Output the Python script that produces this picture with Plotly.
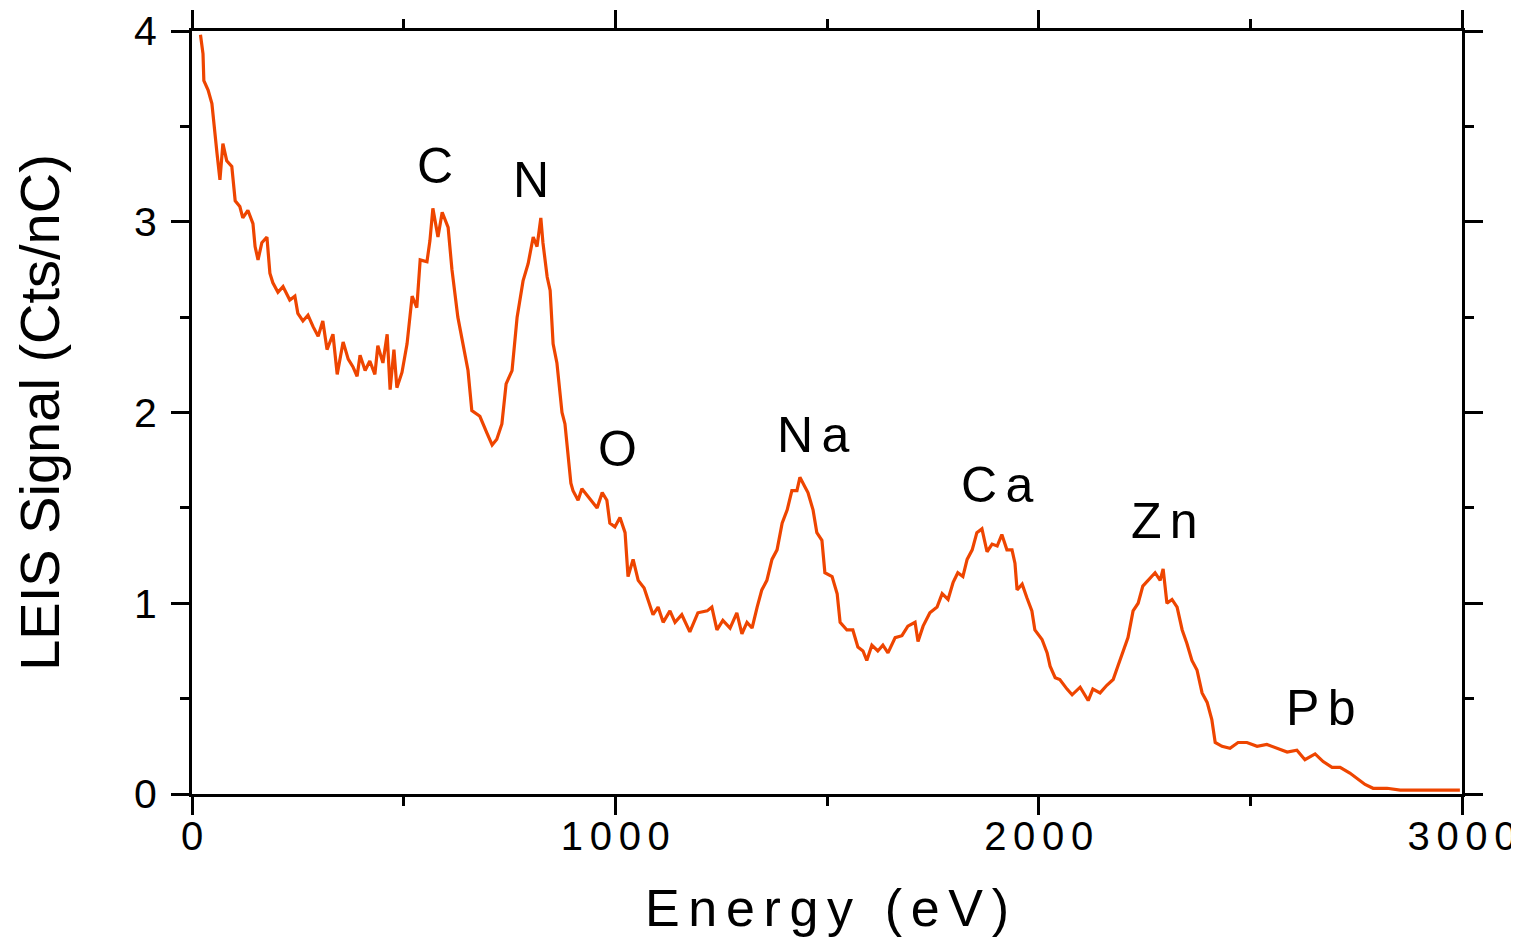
import plotly.graph_objects as go

# Energy (eV) and LEIS signal (Cts/nC)
energy = [20, 26, 28, 38, 47, 52, 59, 66, 73, 82, 94, 102, 113, 120, 132, 144, 149, 156, 165, 177,
          184, 191, 203, 215, 231, 243, 250, 262, 274, 286, 298, 309, 319, 333, 343, 357, 369, 380,
          390, 397, 409, 420, 432, 439, 451, 461, 468, 477, 484, 496, 508, 520, 531, 539, 555, 562,
          569, 581, 591, 605, 614, 628, 640, 652, 661, 680, 697, 709, 720, 732, 742, 756, 768, 782,
          794, 806, 815, 824, 829, 839, 846, 853, 862, 874, 881, 888, 895, 900, 912, 921, 935, 957,
          969, 980, 987, 999, 1011, 1023, 1030, 1042, 1054, 1068, 1077, 1089, 1101, 1113, 1129, 1141,
          1157, 1176, 1195, 1217, 1228, 1240, 1254, 1271, 1287, 1299, 1311, 1323, 1335, 1346, 1358,
          1370, 1382, 1394, 1406, 1417, 1429, 1436, 1448, 1455, 1467, 1476, 1488, 1495, 1512, 1524,
          1531, 1547, 1561, 1573, 1585, 1594, 1606, 1620, 1632, 1644, 1661, 1677, 1691, 1708, 1715,
          1727, 1743, 1760, 1772, 1786, 1798, 1809, 1821, 1831, 1843, 1854, 1866, 1878, 1890, 1902,
          1913, 1925, 1937, 1944, 1949, 1961, 1972, 1984, 1991, 2008, 2020, 2027, 2039, 2050, 2067,
          2079, 2098, 2117, 2128, 2145, 2161, 2176, 2187, 2199, 2211, 2223, 2235, 2246, 2258, 2275,
          2287, 2294, 2303, 2315, 2327, 2339, 2350, 2362, 2374, 2386, 2398, 2409, 2417, 2433, 2452,
          2471, 2492, 2516, 2539, 2563, 2587, 2610, 2629, 2653, 2672, 2693, 2712, 2735, 2754, 2771,
          2790, 2823, 2854, 2894, 2931, 2965, 2995]
signal = [3.98, 3.88, 3.74, 3.69, 3.62, 3.50, 3.36, 3.22, 3.41, 3.32, 3.29, 3.11, 3.08, 3.02, 3.06,
          2.99, 2.87, 2.80, 2.89, 2.92, 2.73, 2.68, 2.63, 2.66, 2.59, 2.61, 2.52, 2.48, 2.51, 2.45,
          2.40, 2.48, 2.33, 2.41, 2.20, 2.37, 2.28, 2.24, 2.19, 2.30, 2.22, 2.27, 2.20, 2.35, 2.26,
          2.41, 2.12, 2.33, 2.13, 2.21, 2.36, 2.61, 2.55, 2.80, 2.79, 2.90, 3.07, 2.92, 3.05, 2.97,
          2.75, 2.50, 2.36, 2.22, 2.01, 1.98, 1.89, 1.83, 1.86, 1.94, 2.15, 2.22, 2.50, 2.69, 2.78,
          2.92, 2.87, 3.02, 2.89, 2.71, 2.64, 2.36, 2.26, 2.00, 1.94, 1.77, 1.63, 1.59, 1.54, 1.60,
          1.56, 1.50, 1.58, 1.54, 1.42, 1.40, 1.45, 1.37, 1.14, 1.23, 1.12, 1.08, 1.02, 0.94, 0.98,
          0.90, 0.96, 0.90, 0.94, 0.85, 0.95, 0.96, 0.98, 0.86, 0.91, 0.87, 0.95, 0.84, 0.90, 0.87,
          0.98, 1.07, 1.12, 1.23, 1.28, 1.42, 1.49, 1.59, 1.59, 1.66, 1.61, 1.58, 1.49, 1.37, 1.33,
          1.16, 1.14, 1.05, 0.90, 0.86, 0.86, 0.77, 0.75, 0.70, 0.78, 0.75, 0.78, 0.74, 0.82, 0.83,
          0.88, 0.90, 0.80, 0.88, 0.95, 0.98, 1.05, 1.02, 1.11, 1.16, 1.14, 1.23, 1.28, 1.37, 1.39,
          1.27, 1.31, 1.30, 1.36, 1.28, 1.28, 1.21, 1.07, 1.10, 1.03, 0.96, 0.86, 0.81, 0.74, 0.67,
          0.61, 0.60, 0.55, 0.52, 0.56, 0.49, 0.55, 0.53, 0.57, 0.60, 0.67, 0.75, 0.82, 0.96, 1.00,
          1.09, 1.12, 1.16, 1.12, 1.18, 1.00, 1.02, 0.98, 0.86, 0.79, 0.70, 0.65, 0.53, 0.48, 0.39,
          0.27, 0.25, 0.24, 0.27, 0.27, 0.25, 0.26, 0.24, 0.22, 0.23, 0.18, 0.21, 0.17, 0.14, 0.14,
          0.11, 0.08, 0.05, 0.03, 0.03, 0.02, 0.02, 0.02, 0.02, 0.02]

# Peak labels
peak_labels = ["C", "N", "O", "N\u2006a", "C\u2006a", "Z\u2006n", "P\u2006b"]
peak_x = [574, 801, 1004, 1467, 1902, 2298, 2665]
peak_y = [3.29, 3.22, 1.81, 1.88, 1.62, 1.43, 0.45]

x_tickvals = [0, 1000, 2000, 3000]
x_ticktext = ["0", "1\u20060\u20060\u20060", "2\u20060\u20060\u20060", "3\u20060\u20060\u20060"]
y_tickvals = [0, 1, 2, 3, 4]
y_ticktext = ["0", "1", "2", "3", "4"]

FONT = "Liberation Sans, Arial, Helvetica, sans-serif"
LINE_COLOR = "#EE4500"

fig = go.Figure()
fig.add_trace(go.Scatter(x=energy, y=signal, mode="lines",
                         line=dict(color=LINE_COLOR, width=3.2), showlegend=False))

for t, xv, yv in zip(peak_labels, peak_x, peak_y):
    fig.add_annotation(x=xv, y=yv, text=t, showarrow=False,
                       font=dict(family=FONT, size=50, color="black"))

axis_common = dict(showline=True, linecolor="black", linewidth=3, mirror="allticks",
                   ticks="outside", ticklen=18, tickwidth=3, tickcolor="black",
                   showgrid=False, zeroline=False, automargin=False,
                   ticklabeloverflow="allow")

fig.update_xaxes(range=[0, 3000], tickmode="array", tickvals=x_tickvals, ticktext=x_ticktext,
                 tickfont=dict(family=FONT, size=40, color="black"),
                 minor=dict(ticks="outside", ticklen=9, tickwidth=3, tickcolor="black",
                            dtick=500, tick0=0, showgrid=False),
                 title=dict(text="E\u2006n\u2006e\u2006r\u2006g\u2006y\u2006 \u2006(\u2006e\u2006V\u2006)",
                            font=dict(family=FONT, size=52, color="black"), standoff=33),
                 ticklabelstandoff=-13,
                 **axis_common)
fig.update_yaxes(range=[0, 4], tickmode="array", tickvals=y_tickvals, ticktext=y_ticktext,
                 tickfont=dict(family=FONT, size=41, color="black"),
                 minor=dict(ticks="outside", ticklen=9, tickwidth=3, tickcolor="black",
                            dtick=0.5, tick0=0, showgrid=False),
                 title=dict(text="LEIS Signal (Cts/nC)",
                            font=dict(family=FONT, size=56, color="black"), standoff=57),
                 ticklabelstandoff=6,
                 **axis_common)

# page body has an 8px default margin, so the figure is sized to fit the 1519x950 window
fig.update_layout(width=1511, height=942,
                  margin=dict(l=184, r=57, t=23, b=156, pad=0),
                  paper_bgcolor="white", plot_bgcolor="white")

fig.write_html("out.html")
